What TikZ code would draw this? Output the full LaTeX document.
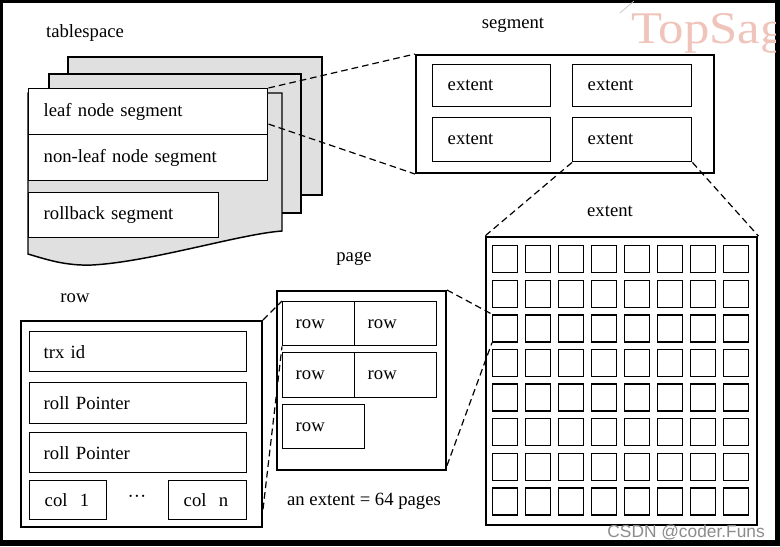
\documentclass[tikz,border=0pt]{standalone}
\usepackage{fontspec}
\setmainfont{Liberation Serif}
\newfontfamily\wmsans{Liberation Sans}
\usetikzlibrary{calc}
\definecolor{sheetgray}{RGB}{224,224,224}
\definecolor{wmpink}{RGB}{240,196,186}
\definecolor{wmgray}{RGB}{140,140,140}
\begin{document}
\def\PX{0.75pt}
\begin{tikzpicture}[x=0.75pt,y=-0.75pt,
  every node/.style={font=\fontsize{14}{16}\selectfont},
  tbox/.style 2 args={draw, line width=1.1pt, fill=white, anchor=north west,
     inner ysep=0pt, inner xsep=15*\PX, text width=(#1-30)*\PX,
     minimum height=#2*\PX, align=left},
  frame/.style={draw, line width=1.5pt, fill=white, anchor=north west,
     inner sep=0pt},
  cell/.style={draw, line width=1.1pt, anchor=north west, inner sep=0pt,
     minimum width=25*\PX, minimum height=27*\PX},
  sheet/.style={draw, line width=1.1pt, fill=sheetgray},
  link/.style={draw, line width=0.9pt, dash pattern=on 5pt off 3pt},
  title/.style={inner sep=0pt, anchor=base}
]
% background frame
\fill[black] (0,0) rectangle (780,546);
\fill[white] (3,3) rectangle (775,540);

% watermark
\draw[black!25, line width=0.5pt] (620,13) -- (634,1);
\begin{scope}
\clip (3,3) rectangle (775,540);
\node[anchor=base west, inner sep=0pt, text=wmpink,
      font=\fontsize{34}{34}\selectfont, xscale=1.12] (wm) at (631,43) {TopSag};
\end{scope}

% ---------------- tablespace ----------------
\node[title] (tslabel) at (85,37) {tablespace};
\draw[sheet] (68,57) rectangle (322,195);
\draw[sheet] (49,74) rectangle (301,213);
\draw[sheet] (28,93) -- (282,93) -- (282,231)
   .. controls (240,234) and (150,262) .. (92,265)
   .. controls (65,266) and (45,259) .. (28,254) -- cycle;
\node[tbox={239}{46}] (leaf) at (28,88) {leaf node segment};
\node[tbox={239}{46}] (nonleaf) at (28,134) {non-leaf node segment};
\node[tbox={190}{45}] (rollback) at (28,192) {rollback segment};

% ---------------- segment ----------------
\node[title] (seglabel) at (513,28) {segment};
\node[frame, minimum width=298*\PX, minimum height=118*\PX] (seg) at (415,54) {};
\node[tbox={118}{42}] (ext1) at (432,64) {extent};
\node[tbox={119}{42}] (ext2) at (572,64) {extent};
\node[tbox={118}{44}] (ext3) at (432,117) {extent};
\node[tbox={119}{44}] (ext4) at (572,117) {extent};

\draw[link] (leaf.north east) -- (seg.north west);
\draw[link] ($(leaf.north east)!0.76!(leaf.south east)$) -- (seg.south west);

% ---------------- extent grid ----------------
\node[title] (extlabel) at (610,216) {extent};
\node[frame, line width=1.8pt, minimum width=271*\PX, minimum height=288*\PX] (grid) at (485,236) {};
\foreach \r in {1,...,8}{
  \foreach \c in {1,...,8}{
    \node[cell] (c\r\c) at ({492+33*(\c-1)},{245+34.6*(\r-1)}) {};
  }
}
\draw[link] (ext4.south west) -- (grid.north west);
\draw[link] (ext4.south east) -- (grid.north east);

% ---------------- page ----------------
\node[title] (pagelabel) at (354,261) {page};
\node[frame, minimum width=169*\PX, minimum height=179*\PX] (page) at (276,290) {};
\node[tbox={72}{44}, inner xsep=13*\PX, text width=46*\PX] (r1a) at (282,301) {row};
\node[tbox={82}{44}, inner xsep=13*\PX, text width=56*\PX] (r1b) at (354,301) {row};
\node[tbox={72}{45}, inner xsep=13*\PX, text width=46*\PX] (r2a) at (282,352) {row};
\node[tbox={82}{45}, inner xsep=13*\PX, text width=56*\PX] (r2b) at (354,352) {row};
\node[tbox={82}{44}, inner xsep=13*\PX, text width=56*\PX] (r3a) at (282,404) {row};
\node[title] (note) at (364,505) {an extent = 64 pages};

\draw[link] (page.north east) -- (c31.north west);
\draw[link] ($(page.north east)!0.97!(page.south east)$) -- (c31.south west);

% ---------------- row ----------------
\node[title] (rowlabel) at (75,302) {row};
\node[frame, minimum width=241*\PX, minimum height=206*\PX] (rowbox) at (20,320) {};
\node[tbox={217}{40}, inner xsep=14*\PX, text width=189*\PX] (trx) at (29,331) {trx id};
\node[tbox={217}{41}, inner xsep=14*\PX, text width=189*\PX] (roll1) at (29,382) {roll Pointer};
\node[tbox={217}{40}, inner xsep=14*\PX, text width=189*\PX] (roll2) at (29,432) {roll Pointer};
\node[tbox={77}{39}] (col1) at (29,480) {col~~1};
\node[tbox={78}{39}] (coln) at (168,480) {col~~n};
\node[title] (dots) at (137,502) {\textperiodcentered\textperiodcentered\textperiodcentered};

\draw[link] (rowbox.north east) -- (r1a.north west);
\draw[link] ($(rowbox.north east)!0.91!(rowbox.south east)$) -- (r1a.south west);

% credit
\node[anchor=base east, inner sep=0pt, text=wmgray,
      font=\wmsans\fontsize{13}{13}\selectfont] (credit) at (765,537) {CSDN @coder.Funs};
\end{tikzpicture}
\end{document}
